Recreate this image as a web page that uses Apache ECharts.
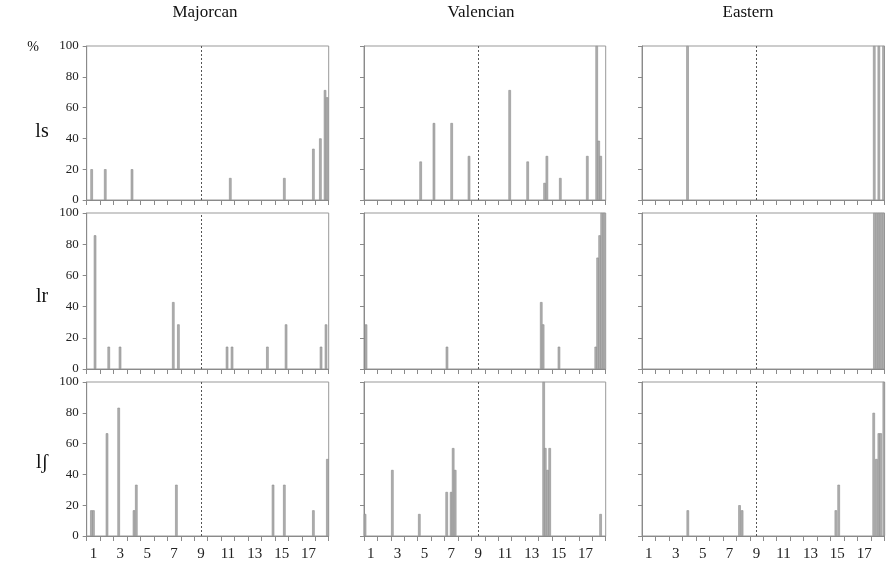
<!DOCTYPE html>
<html><head><meta charset="utf-8">
<script src="https://cdn.jsdelivr.net/npm/echarts@6/dist/echarts.min.js"></script>
<style>html,body{margin:0;padding:0;background:#fff}#c{width:886px;height:565px}</style>
</head><body><div id="c"></div>
<script>
// ---- text ----
const columnTitles = ['Majorcan', 'Valencian', 'Eastern'];
const rowTitles = ['ls', 'lr', 'lʃ'];
const xTickLabels = ['1','2','3','4','5','6','7','8','9','10','11','12','13','14','15','16','17','18'];
const yMin = 0, yMax = 100, yStep = 20;
const dividerX = 9;

// ---- data: [position, percent] ----
const majorcanLs = [[0.87,20],[1.88,20],[3.87,20],[11.18,14.3],[15.2,14.3],[17.36,33.3],[17.88,40],[18.23,71.4],[18.38,66.7]];
const valencianLs = [[4.72,25],[5.71,50],[7.03,50],[8.32,28.6],[11.35,71.4],[12.69,25],[13.95,11.1],[14.12,28.6],[15.12,14.3],[17.13,28.6],[17.83,100],[17.98,38.5],[18.13,28.6]];
const easternLs = [[3.88,100],[17.74,100],[18.08,100],[18.43,100]];

const majorcanLr = [[1.12,85.7],[2.14,14.3],[2.98,14.3],[6.94,42.9],[7.32,28.6],[10.94,14.3],[11.31,14.3],[13.94,14.3],[15.33,28.6],[17.93,14.3],[18.3,28.6]];
const valencianLr = [[0.65,28.6],[6.68,14.3],[13.7,42.9],[13.84,28.6],[15.02,14.3],[17.76,14.3],[17.9,71.4],[18.05,85.7],[18.2,100],[18.37,100]];
const easternLr = [[17.75,100],[17.92,100],[18.09,100],[18.26,100],[18.43,100]];

const majorcanLsh = [[0.85,16.7],[1.0,16.7],[2.01,66.7],[2.88,83.3],[4.02,16.7],[4.19,33.3],[7.17,33.3],[14.36,33.3],[15.2,33.3],[17.36,16.7],[18.4,50]];
const valencianLsh = [[0.58,14.3],[2.61,42.9],[4.62,14.3],[6.66,28.6],[6.99,28.6],[7.14,57.1],[7.29,42.9],[13.88,100],[14.0,57.1],[14.17,42.9],[14.33,57.1],[18.12,14.3]];
const easternLsh = [[3.9,16.7],[7.74,20],[7.93,16.7],[14.89,16.7],[15.1,33.3],[17.7,80],[17.9,50],[18.08,66.7],[18.22,66.7],[18.45,100]];

const panels = [
  [majorcanLs, valencianLs, easternLs],
  [majorcanLr, valencianLr, easternLr],
  [majorcanLsh, valencianLsh, easternLsh]
];

// ---- layout ----
const colLeft = [86.7, 364, 642];
const colWidth = [242, 241.7, 242.5];
const rowTop = [46, 213, 382];
const rowHeight = [154, 156, 154];

const serif = 'Liberation Serif';
const axisGray = '#8a8a8a';

const grid = [], xAxis = [], yAxis = [], series = [];
let k = 0;
for (let r = 0; r < 3; r++) {
  for (let c = 0; c < 3; c++) {
    grid.push({left: colLeft[c], top: rowTop[r], width: colWidth[c], height: rowHeight[r],
      show: true, borderColor: '#999', borderWidth: 1, containLabel: false});
    xAxis.push({type: 'category', gridIndex: k, data: xTickLabels, boundaryGap: true,
      axisLine: {show: true, lineStyle: {color: axisGray, width: 1}},
      axisTick: {show: true, interval: 0, length: 5, lineStyle: {color: axisGray}},
      axisLabel: {show: r === 2, interval: 1, color: '#222', fontFamily: serif, fontSize: 15, margin: 11},
      splitLine: {show: false}});
    xAxis.push({type: 'value', gridIndex: k, min: 0.5, max: 18.5, show: false, splitLine: {show: false}});
    yAxis.push({type: 'value', gridIndex: k, min: yMin, max: yMax, interval: yStep,
      axisLine: {show: true, lineStyle: {color: axisGray, width: 1}},
      axisTick: {show: true, length: 4, lineStyle: {color: axisGray}},
      axisLabel: {show: c === 0, color: '#222', fontFamily: serif, fontSize: 13, margin: 8},
      splitLine: {show: false}});
    series.push({type: 'bar', xAxisIndex: 2 * k + 1, yAxisIndex: k, data: panels[r][c],
      barWidth: 2.5, barGap: '-100%',
      itemStyle: {color: '#b0b0b0', borderColor: '#8c8c8c', borderWidth: 0.6},
      markLine: {silent: true, symbol: 'none', animation: false,
        label: {show: false},
        lineStyle: {type: [2, 2], color: '#555', width: 1},
        data: [{xAxis: dividerX}]}});
    k++;
  }
}

const graphic = [];
const colCenters = [205, 481, 748];
for (let c = 0; c < 3; c++) {
  graphic.push({type: 'text', x: colCenters[c], y: 13,
    style: {text: columnTitles[c], font: '17px "Liberation Serif"', fill: '#111', textAlign: 'center', textVerticalAlign: 'middle'}});
}
const rowCenters = [132, 297, 463];
for (let r = 0; r < 3; r++) {
  graphic.push({type: 'text', x: 42, y: rowCenters[r],
    style: {text: rowTitles[r], font: '20px "Liberation Serif"', fill: '#111', textAlign: 'center', textVerticalAlign: 'middle'}});
}
graphic.push({type: 'text', x: 33, y: 47,
  style: {text: '%', font: '14px "Liberation Serif"', fill: '#111', textAlign: 'center', textVerticalAlign: 'middle'}});

const chart = echarts.init(document.getElementById('c'), null, {renderer: 'canvas'});
chart.setOption({animation: false, backgroundColor: '#fff', grid, xAxis, yAxis, series, graphic});
</script></body></html>
